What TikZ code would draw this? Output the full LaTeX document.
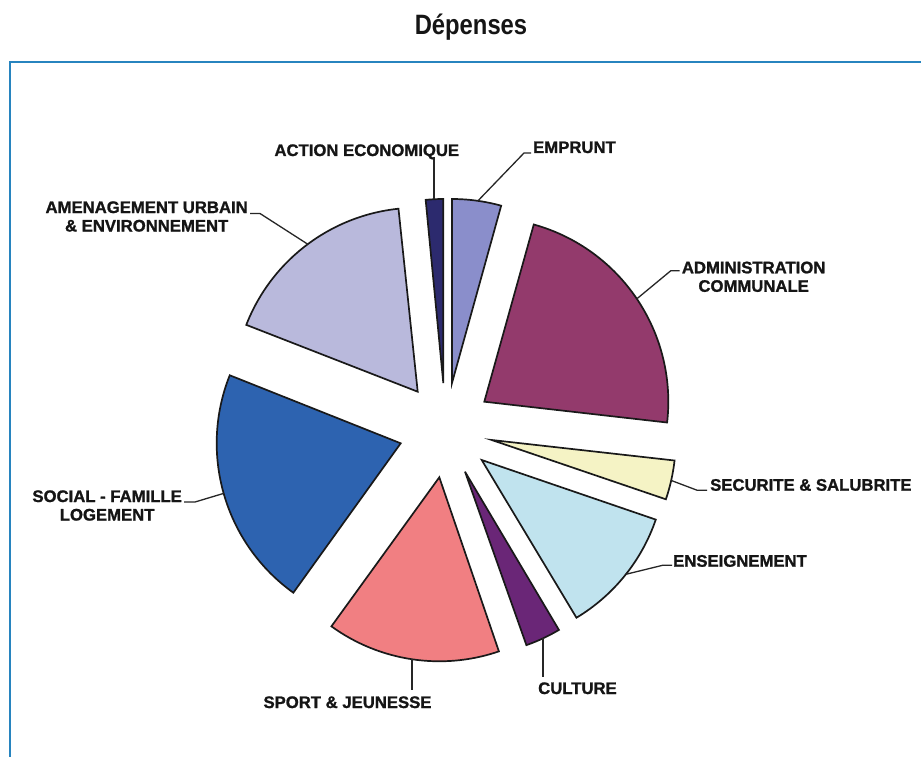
\documentclass[tikz,border=0pt]{standalone}
\usepackage{fontspec}
\usepackage{graphicx}
\setmainfont{Liberation Sans}
\newfontfamily\lblfont[BoldFeatures={FakeBold=1.2}]{Liberation Sans}
\usetikzlibrary{calc}
\definecolor{cAct}{HTML}{2C2A6E}
\definecolor{cEmp}{HTML}{8A8ECB}
\definecolor{cAdm}{HTML}{933A6C}
\definecolor{cSec}{HTML}{F5F3C5}
\definecolor{cEns}{HTML}{C0E3EE}
\definecolor{cCul}{HTML}{6A2677}
\definecolor{cSpo}{HTML}{F17F82}
\definecolor{cSoc}{HTML}{2D63B0}
\definecolor{cAme}{HTML}{B9B9DC}
\definecolor{cFrame}{HTML}{2784BF}
\definecolor{cText}{HTML}{151515}
\begin{document}
\begin{tikzpicture}[x=1pt,y=-1pt,
  slice/.style={draw=black!90, line width=1.7pt, line join=miter},
  lbl/.style={font=\lblfont\bfseries\fontsize{16.7}{18.5}\selectfont, text=cText, inner sep=0pt},
  leader/.style={draw=black!85, line width=1.3pt},
  frameline/.style={draw=cFrame, line width=2pt}]
\useasboundingbox (0,0) rectangle (921,757);
\fill[white] (0,0) rectangle (921,757);

% title
\node[font=\bfseries\fontsize{28}{30}\selectfont, text=cText, inner sep=0pt, anchor=base] (title) at (471,35) {\scalebox{0.85}[1]{Dépenses}};

% frame
\draw[frameline] (925,62) -- (10,62) -- (10,760);

% apexes
\coordinate (a-emp) at (452,383);
\coordinate (a-act) at (443.3,383);
\coordinate (a-ame) at (417.7,391.7);
\coordinate (a-soc) at (400.7,443.3);
\coordinate (a-spo) at (439.3,477.3);
\coordinate (a-cul) at (465,471.7);
\coordinate (a-ens) at (481.7,460);
\coordinate (a-sec) at (491.7,440);
\coordinate (a-adm) at (484.3,401.7);

% slices (screen angles, clockwise positive)
\filldraw[slice, fill=cEmp] (a-emp) -- ++(-74.5:184) arc[start angle=-74.5, end angle=-90, radius=184] -- cycle;
\filldraw[slice, fill=cAct] (a-act) -- ++(-90:184) arc[start angle=-90, end angle=-95.5, radius=184] -- cycle;
\filldraw[slice, fill=cAme] (a-ame) -- ++(-96:184) arc[start angle=-96, end angle=-158.7, radius=184] -- cycle;
\filldraw[slice, fill=cSoc] (a-soc) -- ++(-158.3:184) arc[start angle=-158.3, end angle=-234.3, radius=184] -- cycle;
\filldraw[slice, fill=cSpo] (a-spo) -- ++(-234.1:184) arc[start angle=-234.1, end angle=-288.9, radius=184] -- cycle;
\filldraw[slice, fill=cCul] (a-cul) -- ++(-289.5:184) arc[start angle=-289.5, end angle=-300.7, radius=184] -- cycle;
\filldraw[slice, fill=cEns] (a-ens) -- ++(-301:184) arc[start angle=-301, end angle=-341.1, radius=184] -- cycle;
\filldraw[slice, fill=cSec] (a-sec) -- ++(-341.2:184) arc[start angle=-341.2, end angle=-353.6, radius=184] -- cycle;
\filldraw[slice, fill=cAdm] (a-adm) -- ++(6.5:184) arc[start angle=6.5, end angle=-74.4, radius=184] -- cycle;

% leader anchor points on the slices
\coordinate (p-emp) at ($(a-emp)+(-81.9:184)$);
\coordinate (p-act) at ($(a-act)+(-92.9:184)$);
\coordinate (p-ame) at ($(a-ame)+(-126.7:184)$);
\coordinate (p-soc) at ($(a-soc)+(-195.8:184)$);
\coordinate (p-spo) at ($(a-spo)+(-261.5:184)$);
\coordinate (p-cul) at ($(a-cul)+(-295.1:184)$);
\coordinate (p-ens) at ($(a-ens)+(38.4:184)$);
\coordinate (p-sec) at ($(a-sec)+(12.7:184)$);
\coordinate (p-adm) at ($(a-adm)+(-34:184)$);

% labels
\node[lbl, anchor=base] (t-act) at (366.8,156) {ACTION ECONOMIQUE};
\node[lbl, anchor=base west] (t-emp) at (533,153) {EMPRUNT};
\node[lbl, anchor=base west] (t-adm) at (681.7,273.3) {\begin{tabular}[t]{@{}c@{}}ADMINISTRATION\\COMMUNALE\end{tabular}};
\node[lbl, anchor=base west] (t-sec) at (710,490.7) {SECURITE \& SALUBRITE};
\node[lbl, anchor=base west] (t-ens) at (673,566.7) {ENSEIGNEMENT};
\node[lbl, anchor=base west] (t-cul) at (538,694) {CULTURE};
\node[lbl, anchor=base] (t-spo) at (347.5,708) {SPORT \& JEUNESSE};
\node[lbl, anchor=base east] (t-soc) at (182,502) {\begin{tabular}[t]{@{}c@{}}SOCIAL - FAMILLE\\LOGEMENT\end{tabular}};
\node[lbl, anchor=base east] (t-ame) at (248,213) {\begin{tabular}[t]{@{}c@{}}AMENAGEMENT URBAIN\\\& ENVIRONNEMENT\end{tabular}};

% leaders
\draw[leader] ($(p-act |- t-act.base)+(0,1)$) -- (p-act);
\draw[leader] ($(t-emp.base west)+(-2,0)$) -- ++(-7,0) -- (p-emp);
\draw[leader] ($(t-adm.base west)+(-2,-2.5)$) -- ++(-9,0) -- (p-adm);
\draw[leader] ($(t-sec.base west)+(-3,-0.5)$) -- ++(-10,0) -- (p-sec);
\draw[leader] ($(t-ens.base west)+(-1,-1.5)$) -- ++(-9,0) -- (p-ens);
\draw[leader] (p-cul) -- ($(p-cul |- t-cul.base)+(0,-17)$);
\draw[leader] (p-spo) -- ($(p-spo |- t-spo.base)+(0,-18)$);
\draw[leader] ($(t-soc.base east)+(2,0)$) -- ++(11,0) -- (p-soc);
\draw[leader] ($(t-ame.base east)+(2,0.5)$) -- ++(10,0) -- (p-ame);
\end{tikzpicture}
\end{document}
